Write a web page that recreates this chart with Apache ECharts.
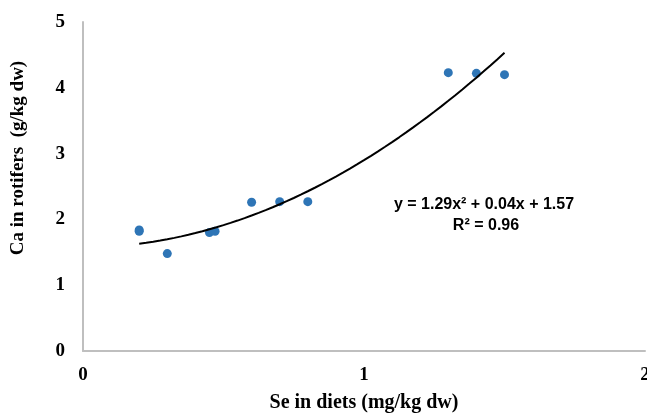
<!DOCTYPE html>
<html>
<head>
<meta charset="utf-8">
<script src="https://cdn.jsdelivr.net/npm/echarts@6/dist/echarts.min.js"></script>
<style>
  html, body { margin: 0; padding: 0; background: #fff; }
  #chart { width: 647px; height: 414px; }
</style>
</head>
<body>
<div id="chart"></div>
<script>
// measured points
const seDiet = [0.2, 0.2, 0.3, 0.45, 0.47, 0.6, 0.7, 0.8, 1.3, 1.4, 1.5]
const caRotifer = [1.84, 1.82, 1.48, 1.8, 1.82, 2.26, 2.27, 2.27, 4.23, 4.22, 4.2]

// trendline y = a*x^2 + b*x + c, as printed on the chart
const trendCoef = [1.29, 0.04, 1.57]
const trendRange = [0.2, 1.5]
const xTicks = [0, 1, 2]
const yTicks = [0, 1, 2, 3, 4, 5]

const trendData = []
for (let i = 0; i <= 52; i++) {
  const x = trendRange[0] + (trendRange[1] - trendRange[0]) * i / 52
  trendData.push([x, trendCoef[0] * x * x + trendCoef[1] * x + trendCoef[2]])
}

const serif = '"Liberation Serif", "Times New Roman", serif'
const sans = '"Liberation Sans", Arial, sans-serif'

const chart = echarts.init(document.getElementById('chart'))
chart.setOption({
  animation: false,
  grid: { left: 83, right: 2, top: 22, bottom: 63, outerBoundsMode: 'none', containLabel: false },
  xAxis: {
    type: 'value',
    min: xTicks[0],
    max: xTicks[xTicks.length - 1],
    interval: 1,
    axisLine: { lineStyle: { color: '#bfbfbf', width: 2 } },
    axisTick: { show: false },
    splitLine: { show: false },
    axisLabel: {
      color: '#000', fontFamily: serif, fontWeight: 'bold', fontSize: 19,
      margin: 15
    },
    name: 'Se in diets (mg/kg dw)',
    nameLocation: 'middle',
    nameGap: 42,
    nameTextStyle: { color: '#000', fontFamily: serif, fontWeight: 'bold', fontSize: 20 }
  },
  yAxis: {
    type: 'value',
    min: yTicks[0],
    max: yTicks[yTicks.length - 1],
    interval: 1,
    axisLine: { show: true, lineStyle: { color: '#bfbfbf', width: 2 } },
    axisTick: { show: false },
    splitLine: { show: false },
    axisLabel: {
      color: '#000', fontFamily: serif, fontWeight: 'bold', fontSize: 19,
      margin: 18
    }
  },
  series: [
    {
      type: 'line',
      data: trendData,
      showSymbol: false,
      smooth: false,
      lineStyle: { color: '#000', width: 2 },
      z: 3
    },
    {
      type: 'scatter',
      data: seDiet.map((x, i) => [x, caRotifer[i]]),
      symbolSize: 9,
      itemStyle: { color: '#2e75b6', opacity: 1 },
      z: 2
    }
  ],
  graphic: [
    {
      type: 'text',
      x: 18,
      y: 158,
      rotation: Math.PI / 2,
      style: {
        text: 'Ca in rotifers  (g/kg dw)',
        fill: '#000',
        font: 'bold 19px ' + serif,
        align: 'center',
        verticalAlign: 'middle'
      }
    },
    {
      type: 'text',
      x: 484,
      y: 205,
      style: {
        text: 'y = 1.29x² + 0.04x + 1.57',
        fill: '#000',
        font: 'bold 16px ' + sans,
        align: 'center',
        verticalAlign: 'middle'
      }
    },
    {
      type: 'text',
      x: 486,
      y: 226,
      style: {
        text: 'R² = 0.96',
        fill: '#000',
        font: 'bold 16px ' + sans,
        align: 'center',
        verticalAlign: 'middle'
      }
    }
  ]
})
</script>
</body>
</html>
